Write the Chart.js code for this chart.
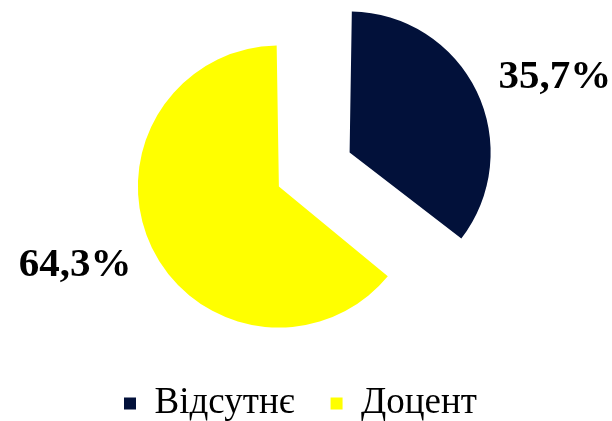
<!DOCTYPE html>
<html>
<head>
<meta charset="utf-8">
<script src="https://cdn.jsdelivr.net/npm/chart.js@4.4.0/dist/chart.umd.min.js"></script>
<style>
  html, body { margin: 0; padding: 0; background: #fff; }
  #wrap { width: 612px; height: 421px; }
</style>
</head>
<body>
<div id="wrap"><canvas id="chart"></canvas></div>
<script>
const categories = ['Відсутнє', 'Доцент'];
const shares = [35.7, 64.3];
const pointLabels = ['35,7%', '64,3%'];
const colors = ['#02113A', '#FFFF00'];

// outside-end percentage labels, following each (exploded) slice
const sliceLabels = {
  id: 'sliceLabels',
  afterDatasetsDraw(chart) {
    const ctx = chart.ctx;
    const meta = chart.getDatasetMeta(0);
    ctx.save();
    ctx.font = 'bold 41px "Liberation Serif", "Times New Roman", serif';
    ctx.fillStyle = '#000';
    ctx.textAlign = 'center';
    ctx.textBaseline = 'middle';
    meta.data.forEach((arc, i) => {
      const p = arc.getProps(['x', 'y', 'startAngle', 'endAngle', 'outerRadius']);
      const mid = (p.startAngle + p.endAngle) / 2 + 0.075;
      const shift = (arc.options.offset || 0) / 4;
      const d = shift + p.outerRadius * 1.72;
      ctx.fillText(pointLabels[i], p.x + Math.cos(mid) * d, p.y + Math.sin(mid) * d);
    });
    ctx.restore();
  }
};

// nudge the legend a little to the right, as in the original
const legendShift = {
  id: 'legendShift',
  afterLayout(chart) {
    chart.legend.left += 9;
    chart.legend.right += 9;
  }
};

new Chart(document.getElementById('chart'), {
  type: 'pie',
  data: {
    labels: categories,
    datasets: [{
      data: shares,
      backgroundColor: colors,
      borderWidth: 0,
      offset: [258, 56],
      radius: 127
    }]
  },
  options: {
    responsive: true,
    maintainAspectRatio: false,
    animation: false,
    layout: { padding: { top: 12, right: 29, bottom: -11, left: 0 } },
    plugins: {
      tooltip: { enabled: false },
      legend: {
        position: 'bottom',
        labels: {
          font: { family: '"Liberation Serif", "Times New Roman", serif', size: 37 },
          color: '#000',
          boxWidth: 12,
          boxHeight: 12,
          padding: 36
        }
      }
    }
  },
  plugins: [sliceLabels, legendShift]
});
</script>
</body>
</html>
